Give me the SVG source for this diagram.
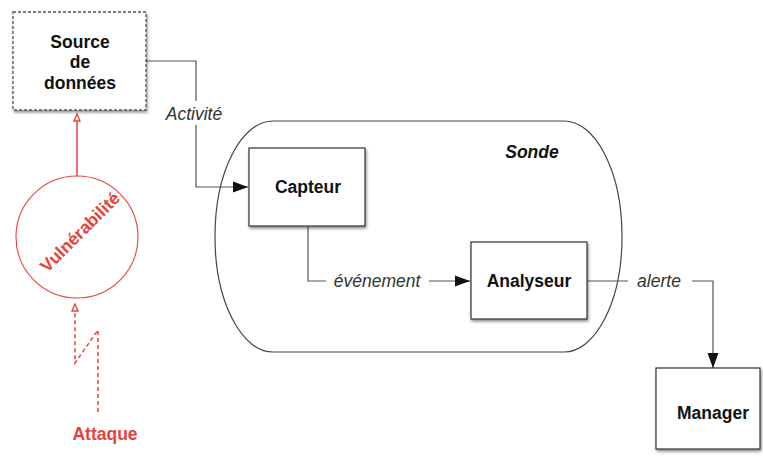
<svg xmlns="http://www.w3.org/2000/svg" width="763" height="458" viewBox="0 0 763 458">
<style>
  .box{fill:#fff;stroke:#333;stroke-width:1.2;filter:url(#sh)}
  .lbl{font-family:"Liberation Sans",Arial,sans-serif;font-size:17.5px;font-weight:bold;fill:#111;text-anchor:middle}
  .it{font-family:"Liberation Sans",Arial,sans-serif;font-size:17.5px;font-style:italic;fill:#333;text-anchor:middle}
  .con{fill:none;stroke:#555;stroke-width:1.2}
  .red{fill:none;stroke:#e8413a;stroke-width:1.5}
  .redt{font-family:"Liberation Sans",Arial,sans-serif;font-size:17.5px;font-weight:bold;fill:#e8413a;text-anchor:middle}
</style>
<defs>
  <filter id="sh" x="-20%" y="-20%" width="140%" height="140%">
    <feDropShadow dx="1" dy="2" stdDeviation="1.5" flood-color="#000" flood-opacity="0.45"/>
  </filter>
  <marker id="ah" markerWidth="16" markerHeight="12" refX="15" refY="6" orient="auto" markerUnits="userSpaceOnUse">
    <path d="M0,0.5 L15,6 L0,11.5 z" fill="#111"/>
  </marker>
  <marker id="hr" markerWidth="10" markerHeight="10" refX="8" refY="4" orient="auto" markerUnits="userSpaceOnUse">
    <path d="M1,1 L8,4 L1,7 z" fill="#fff" stroke="#e8413a" stroke-width="1.3"/>
  </marker>
</defs>
<rect width="763" height="458" fill="#fff"/>

<g id="sonde">
  <rect x="215" y="121" width="407" height="231" rx="58" ry="115" fill="none" stroke="#444" stroke-width="1.2"/>
  <text x="532" y="158" class="lbl" font-style="italic">Sonde</text>
</g>

<g id="connectors">
  <path class="con" d="M146,61 H196 V187 H248" marker-end="url(#ah)"/>
  <rect x="162" y="101" width="66" height="24" fill="#fff"/>
  <path class="con" d="M308,227 V281 H326"/>
  <path class="con" d="M429,281 H470" marker-end="url(#ah)"/>
  <path class="con" d="M588,281 H628"/>
  <path class="con" d="M692,281 H713 V368" marker-end="url(#ah)"/>
  <path class="red" d="M77,176 V114" marker-end="url(#hr)"/>
  <path class="red" stroke-dasharray="4,3" d="M98,412 V330 L75,363 V304" marker-end="url(#hr)"/>
</g>
<text x="194" y="120" class="it">Activité</text>
<text x="377" y="287" class="it">événement</text>
<text x="659" y="287" class="it">alerte</text>

<g id="source">
  <rect x="13" y="12" width="133" height="98" fill="#fff" stroke="#555" stroke-width="1.3" stroke-dasharray="3,2" filter="url(#sh)"/>
  <text x="80" y="48" class="lbl">Source</text>
  <text x="80" y="68" class="lbl">de</text>
  <text x="80" y="89" class="lbl">données</text>
</g>

<g id="capteur">
  <rect x="249" y="148" width="116" height="78" class="box"/>
  <text x="308" y="193" class="lbl">Capteur</text>
</g>

<g id="analyseur">
  <rect x="471" y="242" width="116" height="77" class="box"/>
  <text x="529" y="287" class="lbl">Analyseur</text>
</g>

<g id="manager">
  <rect x="656" y="368" width="104" height="81" class="box"/>
  <text x="713" y="419" class="lbl">Manager</text>
</g>

<g id="vulnerabilite">
  <circle cx="77" cy="237" r="61" fill="#fff" stroke="#e8413a" stroke-width="1.1"/>
  <text class="redt" transform="translate(80 232) rotate(-45)" y="6">Vulnérabilité</text>
</g>

<g id="attaque">
  <text x="105" y="440" class="redt">Attaque</text>
</g>
</svg>
